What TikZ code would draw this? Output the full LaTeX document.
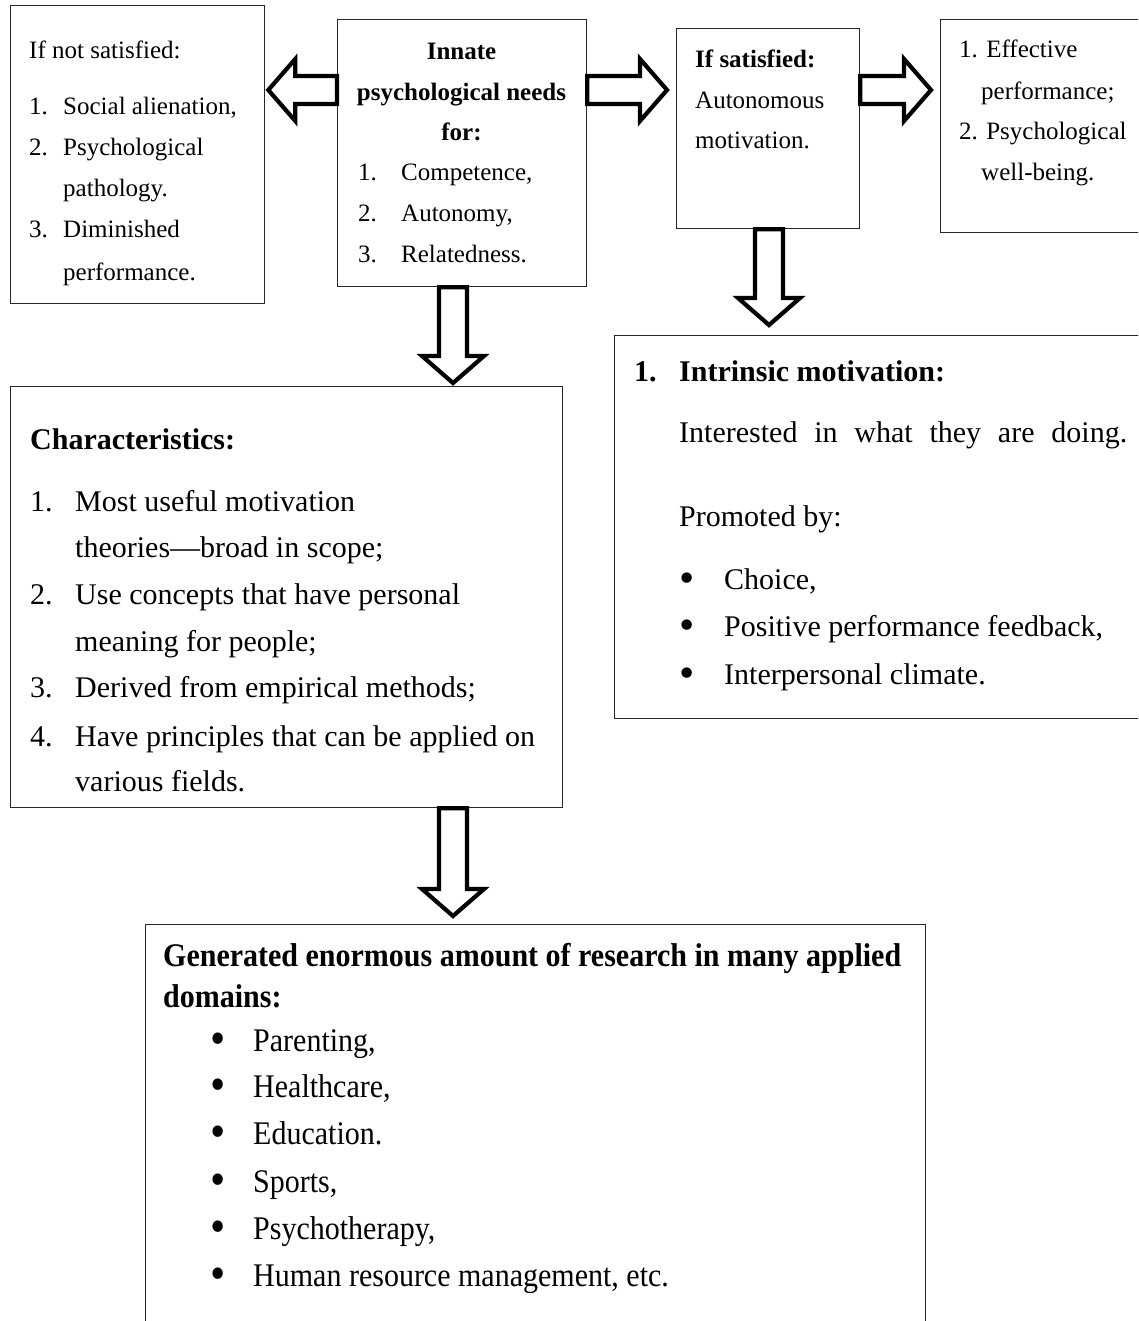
\documentclass[tikz,border=0pt]{standalone}
\usepackage{fontspec}
\setmainfont{Liberation Serif}
\usetikzlibrary{calc}
\tikzset{
  box/.style={draw=black!85, line width=1.3pt, rectangle, inner sep=0pt, anchor=north west},
  tsm/.style={anchor=base west, inner sep=0pt, font=\fontsize{25}{30}\selectfont},
  tbg/.style={anchor=base west, inner sep=0pt, font=\fontsize{30}{36}\selectfont},
  barrow/.style={draw=black, fill=white, line width=4.2pt, line join=miter}
}
\newcommand\bul{\raisebox{-3.5pt}{\scalebox{1.45}{\textbullet}}}
\newcommand\tall[1]{\scalebox{1}[1.1]{#1}}
\newcommand\blockarrow[2]{%
  \coordinate (ba-h) at ($(#2)!27pt!(#1)$);
  \draw[barrow] ($(#1)!14pt!90:(#2)$) -- ($(ba-h)!14pt!90:(#2)$) -- ($(ba-h)!31pt!90:(#2)$) -- (#2)
    -- ($(ba-h)!31pt!-90:(#2)$) -- ($(ba-h)!14pt!-90:(#2)$) -- ($(#1)!14pt!-90:(#2)$) -- cycle;}
\begin{document}
\begin{tikzpicture}[x=1pt, y=-1pt]
\useasboundingbox (0,0) rectangle (1138,1321);
\clip (0,0) rectangle (1138,1321);
\fill[white] (0,0) rectangle (1138,1321);
% boxes
\node[box, minimum width=254.5pt, minimum height=298pt] (A) at (9.5,5) {};
\node[box, minimum width=249pt, minimum height=267pt] (B) at (337,19) {};
\node[box, minimum width=183pt, minimum height=200pt] (C) at (676,28) {};
\node[box, minimum width=215pt, minimum height=213pt] (D) at (940,19) {};
\node[box, minimum width=540pt, minimum height=383pt] (E) at (614,335) {};
\node[box, minimum width=552pt, minimum height=421pt] (F) at (10,386) {};
\node[box, minimum width=780pt, minimum height=420pt] (G) at (145,924) {};
% arrow end points
\coordinate (s1) at ($(B.north west)+(0,71)$);
\coordinate (t1) at ($(A.north east)+(3,85)$);
\coordinate (s2) at ($(B.north east)+(0,71)$);
\coordinate (t2) at ($(C.north west)+(-9,62)$);
\coordinate (s3) at ($(C.north east)+(0,62)$);
\coordinate (t3) at ($(D.north west)+(-9,71)$);
\coordinate (s4) at ($(C.south west)+(93,0)$);
\coordinate (t4) at ($(E.north west)+(155,-10)$);
\coordinate (s5) at ($(B.south west)+(116,0)$);
\coordinate (t5) at ($(F.north west)+(443,-3)$);
\coordinate (s6) at ($(F.south west)+(443,0)$);
\coordinate (t6) at ($(G.north west)+(308,-8)$);
\blockarrow{s1}{t1}
\blockarrow{s2}{t2}
\blockarrow{s3}{t3}
\blockarrow{s4}{t4}
\blockarrow{s5}{t5}
\blockarrow{s6}{t6}
% box A
\node[tsm] (a0) at (29,59) {If not satisfied:};
\node[tsm] (a1) at (29,115) {\makebox[34pt][l]{1.}Social alienation,};
\node[tsm] (a2) at (29,156) {\makebox[34pt][l]{2.}Psychological};
\node[tsm] (a3) at (63,197) {pathology.};
\node[tsm] (a4) at (29,238) {\makebox[34pt][l]{3.}Diminished};
\node[tsm] (a5) at (63,280) {performance.};
% box B
\node[tsm, anchor=base] (b0) at (461.5,60) {\textbf{Innate}};
\node[tsm, anchor=base] (b1) at (461.5,101) {\textbf{psychological needs}};
\node[tsm, anchor=base] (b2) at (461.5,141) {\textbf{for:}};
\node[tsm] (b3) at (358,181) {\makebox[43pt][l]{1.}Competence,};
\node[tsm] (b4) at (358,222) {\makebox[43pt][l]{2.}Autonomy,};
\node[tsm] (b5) at (358,263) {\makebox[43pt][l]{3.}Relatedness.};
% box C
\node[tsm] (c0) at (695,68) {\textbf{If satisfied:}};
\node[tsm] (c1) at (695,109) {Autonomous};
\node[tsm] (c2) at (695,149) {motivation.};
% box D
\node[tsm] (d0) at (959,58) {1. Effective};
\node[tsm] (d1) at (981,100) {performance;};
\node[tsm] (d2) at (959,140) {2. Psychological};
\node[tsm] (d3) at (981,181) {well-being.};
% box E
\node[tbg] (e0) at (634,381) {\textbf{\makebox[45pt][l]{1.}Intrinsic motivation:}};
\node[tbg] (e1) at (679,442) {\makebox[448pt][s]{Interested in what they are doing.}};
\node[tbg] (e2) at (679,526) {Promoted by:};
\node[tbg] (e3) at (679,589) {\makebox[45pt][l]{\bul}Choice,};
\node[tbg] (e4) at (679,636) {\makebox[45pt][l]{\bul}Positive performance feedback,};
\node[tbg] (e5) at (679,684) {\makebox[45pt][l]{\bul}Interpersonal climate.};
% box F
\node[tbg] (f0) at (30,449) {\textbf{Characteristics:}};
\node[tbg] (f1) at (30,511) {\makebox[45pt][l]{1.}Most useful motivation};
\node[tbg] (f2) at (75,557) {theories—broad in scope;};
\node[tbg] (f3) at (30,604) {\makebox[45pt][l]{2.}Use concepts that have personal};
\node[tbg] (f4) at (75,651) {meaning for people;};
\node[tbg] (f5) at (30,697) {\makebox[45pt][l]{3.}Derived from empirical methods;};
\node[tbg] (f6) at (30,746) {\makebox[45pt][l]{4.}Have principles that can be applied on};
\node[tbg] (f7) at (75,791) {various fields.};
% box G
\node[tbg] (g0) at (163,966) {\tall{\textbf{Generated enormous amount of research in many applied}}};
\node[tbg] (g1) at (163,1007) {\tall{\textbf{domains:}}};
\node[tbg] (g2) at (210,1051) {\tall{\makebox[43pt][l]{\bul}Parenting,}};
\node[tbg] (g3) at (210,1097) {\tall{\makebox[43pt][l]{\bul}Healthcare,}};
\node[tbg] (g4) at (210,1144) {\tall{\makebox[43pt][l]{\bul}Education.}};
\node[tbg] (g5) at (210,1192) {\tall{\makebox[43pt][l]{\bul}Sports,}};
\node[tbg] (g6) at (210,1239) {\tall{\makebox[43pt][l]{\bul}Psychotherapy,}};
\node[tbg] (g7) at (210,1286) {\tall{\makebox[43pt][l]{\bul}Human resource management, etc.}};
\end{tikzpicture}
\end{document}
